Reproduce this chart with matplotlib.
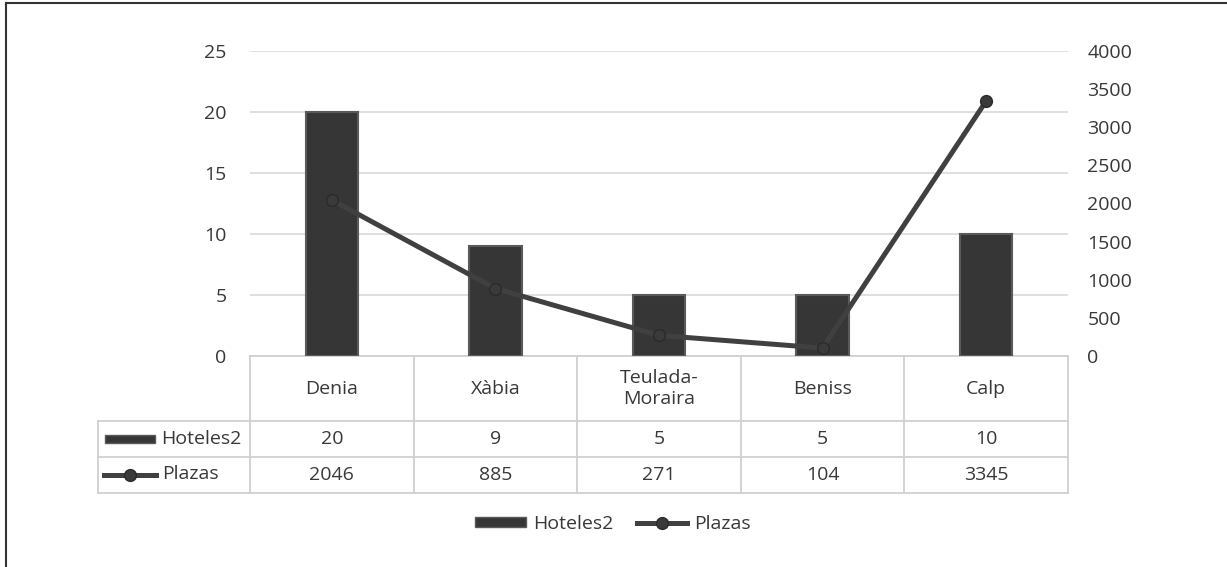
import matplotlib
matplotlib.use('Agg')
import matplotlib.pyplot as plt
from matplotlib.lines import Line2D
from matplotlib.patches import Patch, Rectangle

plt.rcParams['font.family'] = ['Open Sans', 'DejaVu Sans']

categories = ['Denia', 'Xàbia', 'Teulada-\nMoraira', 'Beniss', 'Calp']
hoteles = [20, 9, 5, 5, 10]
plazas = [2046, 885, 271, 104, 3345]
left_ticks = [0, 5, 10, 15, 20, 25]
right_ticks = [0, 500, 1000, 1500, 2000, 2500, 3000, 3500, 4000]

W, H = 1227, 567
fig = plt.figure(figsize=(W / 100, H / 100), dpi=100)

# plot area in pixels
x0, x1, ytop, ybot = 250, 1068, 51, 356
ax = fig.add_axes([x0 / W, 1 - ybot / H, (x1 - x0) / W, (ybot - ytop) / H])
ax2 = ax.twinx()

bar_col = '#363636'
bar_edge = '#5a5a5a'
line_col = '#404040'
mk = dict(marker='o', markersize=8.5, markerfacecolor='#3a3a3a', markeredgecolor='#2a2a2a')
grid_col = '#d9d9d9'
txt_col = '#383838'
fs = 14

x = list(range(len(categories)))
ax.bar(x, hoteles, width=0.32, color=bar_col, edgecolor=bar_edge, linewidth=1.5, zorder=3)
ax.set_xlim(-0.5, len(categories) - 0.5)
ax.set_ylim(0, 25)
ax.set_yticks(left_ticks)
ax.grid(axis='y', color=grid_col, linewidth=1.2, zorder=0)
ax.set_xticks([])
for s in ax.spines.values():
    s.set_visible(False)
for s in ax2.spines.values():
    s.set_visible(False)
ax.tick_params(axis='y', length=0, pad=17, labelsize=fs, labelcolor=txt_col)

ax2.plot(x, plazas, color=line_col, linewidth=3.6, zorder=4, **mk)
ax2.set_ylim(0, 4000)
ax2.set_yticks(right_ticks)
ax2.tick_params(axis='y', length=0, pad=14, labelsize=fs, labelcolor=txt_col)

# data table below the plot (axes fraction for y)
px = ybot - ytop
def yf(py):
    return -(py - ybot) / px

tb_col = '#d0d0d0'
r1, r2, r3 = yf(421), yf(457), yf(493)
xl = -0.5 + (98 - x0) / ((x1 - x0) / len(categories))
tr = ax.get_xaxis_transform()
kw = dict(color=tb_col, linewidth=1.3, clip_on=False, transform=tr)
ax.plot([-0.5, 4.5], [0, 0], **kw)
for yy in (r1, r2, r3):
    ax.plot([xl, 4.5], [yy, yy], **kw)
ax.plot([xl, xl], [r1, r3], **kw)
for k in range(len(categories) + 1):
    ax.plot([k - 0.5, k - 0.5], [0, r3], **kw)

for i, c in enumerate(categories):
    ax.text(i, (0 + r1) / 2, c, ha='center', va='center', fontsize=fs, color=txt_col,
            transform=tr, linespacing=1.15)
    ax.text(i, (r1 + r2) / 2, str(hoteles[i]), ha='center', va='center', fontsize=fs,
            color=txt_col, transform=tr)
    ax.text(i, (r2 + r3) / 2, str(plazas[i]), ha='center', va='center', fontsize=fs,
            color=txt_col, transform=tr)

# row label keys
fig.add_artist(Rectangle((105 / W, 1 - 443 / H), 50 / W, 8 / H, facecolor=bar_col,
                         edgecolor=bar_edge, linewidth=1))
fig.text(161 / W, 1 - 439 / H, 'Hoteles2', ha='left', va='center', fontsize=fs, color=txt_col)
fig.add_artist(Line2D([104 / W, 156 / W], [1 - 475 / H] * 2, color=line_col, linewidth=3.6))
fig.add_artist(Line2D([130 / W], [1 - 475 / H], **mk))
fig.text(162 / W, 1 - 474 / H, 'Plazas', ha='left', va='center', fontsize=fs, color=txt_col)

# legend
handles = [Patch(facecolor=bar_col, edgecolor=bar_edge, linewidth=1),
           Line2D([], [], color=line_col, linewidth=3.6, **mk)]
fig.legend(handles, ['Hoteles2', 'Plazas'], loc='center', bbox_to_anchor=(613 / W, 1 - 524 / H),
           ncol=2, frameon=False, fontsize=fs, handlelength=2.6, handleheight=0.42,
           handletextpad=0.35, columnspacing=1.2, labelcolor=txt_col)

# outer frame (top and left edges)
fig.add_artist(Line2D([6 / W, 1], [1 - 3 / H] * 2, color='#333333', linewidth=1.5))
fig.add_artist(Line2D([6 / W, 6 / W], [0, 1 - 3 / H], color='#333333', linewidth=1.5))

fig.savefig('out.png', dpi=100)
